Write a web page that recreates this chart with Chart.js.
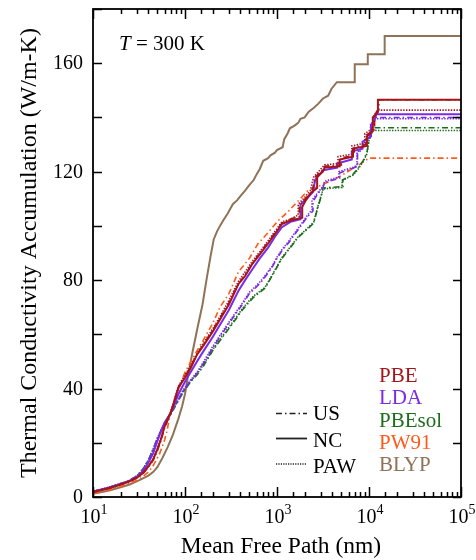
<!DOCTYPE html>
<html>
<head>
<meta charset="utf-8">
<script src="https://cdn.jsdelivr.net/npm/chart.js@4"></script>
<style>
html,body{margin:0;padding:0;background:#fff;}
#wrap{width:476px;height:560px;position:relative;}
</style>
</head>
<body>
<div id="wrap"><canvas id="c" width="476" height="560"></canvas></div>
<script>
// ---- data: [mean free path (nm), accumulated k (W/m-K)] ----
const PBE_US = [[10,1.8],[15,3.2],[20,4.6],[25,5.7],[30,7],[35,8.6],[40,11],[45,13.5],[50,17],[55,21],[60,25.5],[70,31],[85,40],[100,44.5],[115,48],[135,52.5],[160,56.5],[200,61.5],[240,66],[300,71.5],[380,78.5],[450,82],[540,86],[650,90],[800,94],[950,97.5],[1130,101],[1400,102.5],[1750,103.5],[1750,107],[2020,110],[2400,112.5],[2600,118],[3100,120.5],[3300,122],[5000,122.5],[5000,125],[6900,126],[6900,129],[9300,130],[9300,133.5],[11500,135.5],[11500,141],[12800,143],[12800,146.5],[100000,146.5]];
const PBE_NC = [[10,1.8],[15,3.2],[20,4.6],[25,5.8],[30,7.1],[35,8.8],[40,11.3],[45,13.8],[50,17.5],[55,21.5],[60,26],[70,31],[85,40.5],[100,44],[115,47.5],[135,52.5],[160,56],[200,61],[240,65.5],[300,71],[380,78.5],[450,81.5],[540,86],[650,89.5],[800,93.5],[950,97],[1130,100.7],[1400,102],[1880,103],[1880,107],[2020,109],[2300,112],[2730,114],[2730,118],[3150,120],[3300,121.5],[4800,122],[4800,124.5],[6700,125.5],[6700,128.5],[9500,129.5],[9500,133],[11000,135],[11000,140],[12500,142],[12500,146.5],[100000,146.5]];
const PBE_PAW = [[10,1.8],[15,3.2],[20,4.6],[25,5.8],[30,7.2],[35,9],[40,11.5],[45,14],[50,17.8],[55,22],[60,26.5],[70,31.5],[85,41],[100,45],[115,48.5],[135,53],[160,57],[200,62],[240,66.5],[300,72.5],[380,79.5],[450,83],[540,87],[650,90.5],[800,94.5],[950,98],[1130,101.5],[1400,102.5],[1700,104],[1700,108],[2000,110.5],[2300,113],[2500,118],[3000,121],[3300,122.5],[4600,123],[4600,125.5],[6500,126.5],[6500,129.5],[9000,130.5],[9000,134],[11000,136],[11000,140],[12300,142.7],[100000,142.7]];
const LDA_US = [[10,2],[15,3.5],[20,4.9],[25,6],[30,7.6],[35,10],[40,13.2],[45,17],[50,21.5],[55,24.5],[60,27],[70,31],[80,34.5],[95,39],[115,43],[135,45.6],[160,49.5],[200,55],[250,60],[330,66],[420,71],[500,75],[580,77],[700,80],[880,84.6],[1000,88],[1130,90.8],[1350,94],[1570,97],[2100,103],[2460,105.5],[2460,109],[2770,111.8],[3150,114],[3300,116],[4800,117.6],[4800,119.5],[6700,121.3],[7500,122],[7500,127],[8000,127.6],[9900,132],[10500,134],[10500,137.5],[11500,138.6],[11500,140],[100000,140]];
const LDA_NC = [[10,2],[15,3.5],[20,4.8],[25,6],[30,7.5],[35,9.6],[40,12.7],[45,16],[50,20.5],[55,24.5],[60,27.5],[70,31],[85,38],[100,42.5],[115,46],[135,50],[160,54],[200,59],[240,63.5],[300,69],[380,76],[450,80],[540,84],[650,88],[800,92],[950,96],[1130,99.5],[1400,101.5],[1800,102.5],[1800,108],[2100,110],[2460,112.5],[2600,117],[3150,120.5],[4500,121.5],[4500,123],[6500,124.5],[6500,127.5],[8500,128.5],[8500,131],[10500,133],[10500,137],[11500,139],[12000,141.2],[100000,141.2]];
const LDA_PAW = [[10,2],[15,3.5],[20,4.9],[25,6],[30,7.6],[35,10],[40,13.3],[45,17.2],[50,21.5],[55,24.5],[60,27],[70,31],[80,34.8],[95,39.3],[115,43.2],[135,46],[160,50],[200,55.5],[250,60.5],[330,66.5],[420,71.5],[500,75.5],[580,77.5],[700,80.5],[880,85],[1000,88.5],[1130,91.2],[1350,94.5],[1570,97.5],[2100,103.5],[2400,106],[2400,109.5],[2770,112.3],[3150,114.5],[3300,116.5],[4700,118],[4700,120],[6700,121.6],[7400,122.3],[7400,127.2],[8000,128],[9900,132.3],[10400,134.3],[10400,137.7],[11400,138.5],[11400,139.5],[100000,139.5]];
const PBESOL_US = [[10,2],[15,3.6],[20,5],[25,6.1],[30,7.8],[35,10.3],[40,13.6],[45,17.5],[50,21.5],[55,24.5],[60,27],[70,30.5],[80,34],[95,38.5],[115,42.5],[135,45],[160,48.5],[200,54],[250,58.5],[330,64],[420,69],[550,73.5],[740,77],[900,82],[1130,88],[1400,92],[1680,95.6],[2170,99],[2500,101],[2770,106.6],[3150,113],[3150,114],[5200,114.5],[5200,117],[6700,119],[7500,121],[8600,124],[9500,127],[10000,132],[11000,136.2],[100000,136.2]];
const PBESOL_PAW = [[10,2],[15,3.6],[20,5],[25,6.1],[30,7.8],[35,10.4],[40,13.8],[45,17.7],[50,21.7],[55,24.7],[60,27.2],[70,30.8],[80,34.2],[95,38.8],[115,42.8],[135,45.3],[160,49],[200,54.3],[250,59],[330,64.5],[420,69.5],[550,74],[740,77.3],[900,82.3],[1130,88.3],[1400,92.3],[1680,95.8],[2170,99.3],[2500,101.3],[2770,107],[3100,112.5],[3100,113.6],[5100,114.2],[5100,116.8],[6700,118.7],[7500,120.6],[8600,123.6],[9500,126.6],[10000,131.5],[11000,135.2],[100000,135.2]];
const PW91_US = [[10,1.2],[15,2.6],[20,3.9],[25,5.1],[30,6.2],[35,7.6],[40,9.2],[45,11.5],[53,16],[60,21],[64,24.6],[69,30.9],[81,38],[90,42],[100,46],[125,52],[157,57.7],[200,64],[240,70],[300,75],[380,83],[500,88],[620,93.4],[800,97.5],[1020,101.8],[1300,105],[1570,108],[2170,113],[3000,115],[3750,116.5],[5000,118.5],[6500,121],[8000,122.8],[10000,125],[100000,125]];
const BLYP_NC = [[10,1.2],[15,2.4],[20,3.6],[25,4.6],[32,6.2],[40,7.9],[45,9.2],[50,11],[57,14.5],[65,18.5],[74,23],[85,29],[93,33.5],[100,38],[108,45],[120,53],[135,61.5],[155,71],[173,81],[190,89],[205,95],[223,98],[240,100],[260,102],[290,104.5],[331,108],[370,109.5],[400,111],[450,113],[500,115],[560,117],[600,119],[650,121],[708,124],[800,125],[850,126],[950,127],[1000,128],[1150,129],[1200,132],[1300,134],[1380,136],[1550,137],[1700,138],[1800,139.5],[2000,140],[2200,142],[2500,143.5],[2800,145],[3160,147],[3600,148],[3900,150.5],[4470,153],[7000,153],[7000,159.6],[9700,159.6],[9700,163.3],[14800,163.3],[14800,170],[100000,170]];

const xTicksMajor = [10, 100, 1000, 10000, 100000];
const yTickLabels = [0, 40, 80, 120, 160];
const functionals = ['PBE','LDA','PBEsol','PW91','BLYP'];
const potentials = ['US','NC','PAW'];

const COL = {PBE:'#a3151b', LDA:'#7a2be6', PBEsol:'#1d6d1d', PW91:'#ff5a1a', BLYP:'#8f7358'};
const DASH = {US:[6,3,1.5,3], NC:[], PAW:[1.4,1.4]};
const WID = {US:1.6, NC:2, PAW:1.6};

function ds(label, data, fn, pp){
  return {label, data, borderColor:COL[fn], borderDash:DASH[pp], borderWidth:WID[pp],
          pointRadius:0, tension:0, fill:false};
}

const SERIF = '"Liberation Serif", "Times New Roman", serif';

const deco = {
  id:'deco',
  afterDraw(chart){
    const ctx = chart.ctx, a = chart.chartArea, xs = chart.scales.x, ys = chart.scales.y;
    ctx.save();
    ctx.strokeStyle = '#000';
    ctx.lineWidth = 1.5;
    // ticks x
    xs.ticks.forEach(t=>{
      const v = t.value; const px = Math.round(xs.getPixelForValue(v))+0.5;
      const major = xTicksMajor.includes(v);
      const L = major ? 10 : 5;
      ctx.beginPath();
      ctx.moveTo(px, a.bottom); ctx.lineTo(px, a.bottom - L);
      ctx.moveTo(px, a.top); ctx.lineTo(px, a.top + L);
      ctx.stroke();
    });
    ys.ticks.forEach(t=>{
      const py = Math.round(ys.getPixelForValue(t.value))+0.5;
      ctx.beginPath();
      ctx.moveTo(a.left, py); ctx.lineTo(a.left + 9, py);
      ctx.moveTo(a.right, py); ctx.lineTo(a.right - 8, py);
      ctx.stroke();
    });
    // frame
    ctx.lineWidth = 1.8;
    ctx.strokeRect(a.left, a.top, a.right - a.left, a.bottom - a.top);
    // y tick labels
    ctx.fillStyle = '#000';
    ctx.font = '20px ' + SERIF;
    ctx.textAlign = 'right';
    ctx.textBaseline = 'middle';
    yTickLabels.forEach(v=>{
      ctx.fillText(String(v), 83, ys.getPixelForValue(v) + 1);
    });
    // x tick labels 10^n
    ctx.textBaseline = 'alphabetic';
    xTicksMajor.forEach(v=>{
      const px = xs.getPixelForValue(v);
      const e = String(Math.round(Math.log10(v)));
      ctx.font = '20px ' + SERIF;
      const w1 = ctx.measureText('10').width;
      ctx.font = '14px ' + SERIF;
      const w2 = ctx.measureText(e).width;
      const x0 = px - (w1 + w2)/2 + 1;
      ctx.font = '20px ' + SERIF;
      ctx.textAlign = 'left';
      ctx.fillText('10', x0, 523);
      ctx.font = '14px ' + SERIF;
      ctx.fillText(e, x0 + w1, 514);
    });
    // axis titles
    ctx.font = '23.5px ' + SERIF;
    ctx.textAlign = 'center';
    ctx.fillText('Mean Free Path (nm)', 281, 553);
    ctx.save();
    ctx.translate(36, (a.top + a.bottom)/2);
    ctx.rotate(-Math.PI/2);
    ctx.font = '24px ' + SERIF;
    ctx.fillText('Thermal Conductivity Accumulation (W/m-K)', 0, 0);
    ctx.restore();
    // T = 300 K
    ctx.textAlign = 'left';
    ctx.font = 'italic 21px ' + SERIF;
    ctx.fillText('T', 119, 50);
    const wT = ctx.measureText('T').width;
    ctx.font = '21px ' + SERIF;
    ctx.fillText(' = 300 K', 119 + wT, 50);
    // functional legend
    const fy = [382, 404, 427, 449, 471];
    functionals.forEach((f,i)=>{
      ctx.fillStyle = COL[f];
      ctx.font = '21px ' + SERIF;
      ctx.fillText(f, 379, fy[i]);
    });
    // potential legend
    const py = [420, 446.5, 473];
    const ly = [413.5, 438.5, 464];
    potentials.forEach((p,i)=>{
      ctx.fillStyle = '#000';
      ctx.font = '21px ' + SERIF;
      ctx.fillText(p, 313, py[i]);
      ctx.strokeStyle = '#222';
      ctx.lineWidth = p === 'NC' ? 1.8 : 1.4;
      ctx.setLineDash(p === 'PAW' ? [1.2,1.2] : DASH[p]);
      ctx.beginPath();
      ctx.moveTo(276, ly[i]); ctx.lineTo(307, ly[i]);
      ctx.stroke();
      ctx.setLineDash([]);
    });
    ctx.restore();
  }
};

new Chart(document.getElementById('c'), {
  type:'line',
  data:{datasets:[
    ds('PBE NC', PBE_NC, 'PBE', 'NC'),
    ds('PBE US', PBE_US, 'PBE', 'US'),
    ds('PBE PAW', PBE_PAW, 'PBE', 'PAW'),
    ds('LDA NC', LDA_NC, 'LDA', 'NC'),
    ds('LDA US', LDA_US, 'LDA', 'US'),
    ds('LDA PAW', LDA_PAW, 'LDA', 'PAW'),
    ds('PBEsol US', PBESOL_US, 'PBEsol', 'US'),
    ds('PBEsol PAW', PBESOL_PAW, 'PBEsol', 'PAW'),
    ds('PW91 US', PW91_US, 'PW91', 'US'),
    ds('BLYP NC', BLYP_NC, 'BLYP', 'NC')
  ]},
  options:{
    responsive:false, animation:false,
    devicePixelRatio:1,
    layout:{padding:{left:0, right:15, top:9, bottom:0}},
    plugins:{legend:{display:false}, tooltip:{enabled:false}},
    scales:{
      x:{type:'logarithmic', min:10, max:100000,
         grid:{display:false}, border:{display:false},
         ticks:{display:false, autoSkip:false},
         afterFit(s){ s.height = 63; }},
      y:{type:'linear', min:0, max:180,
         grid:{display:false, drawTicks:false}, border:{display:false},
         ticks:{display:false, stepSize:20, autoSkip:false},
         afterFit(s){ s.width = 93; }}
    }
  },
  plugins:[deco]
});
</script>
</body>
</html>
